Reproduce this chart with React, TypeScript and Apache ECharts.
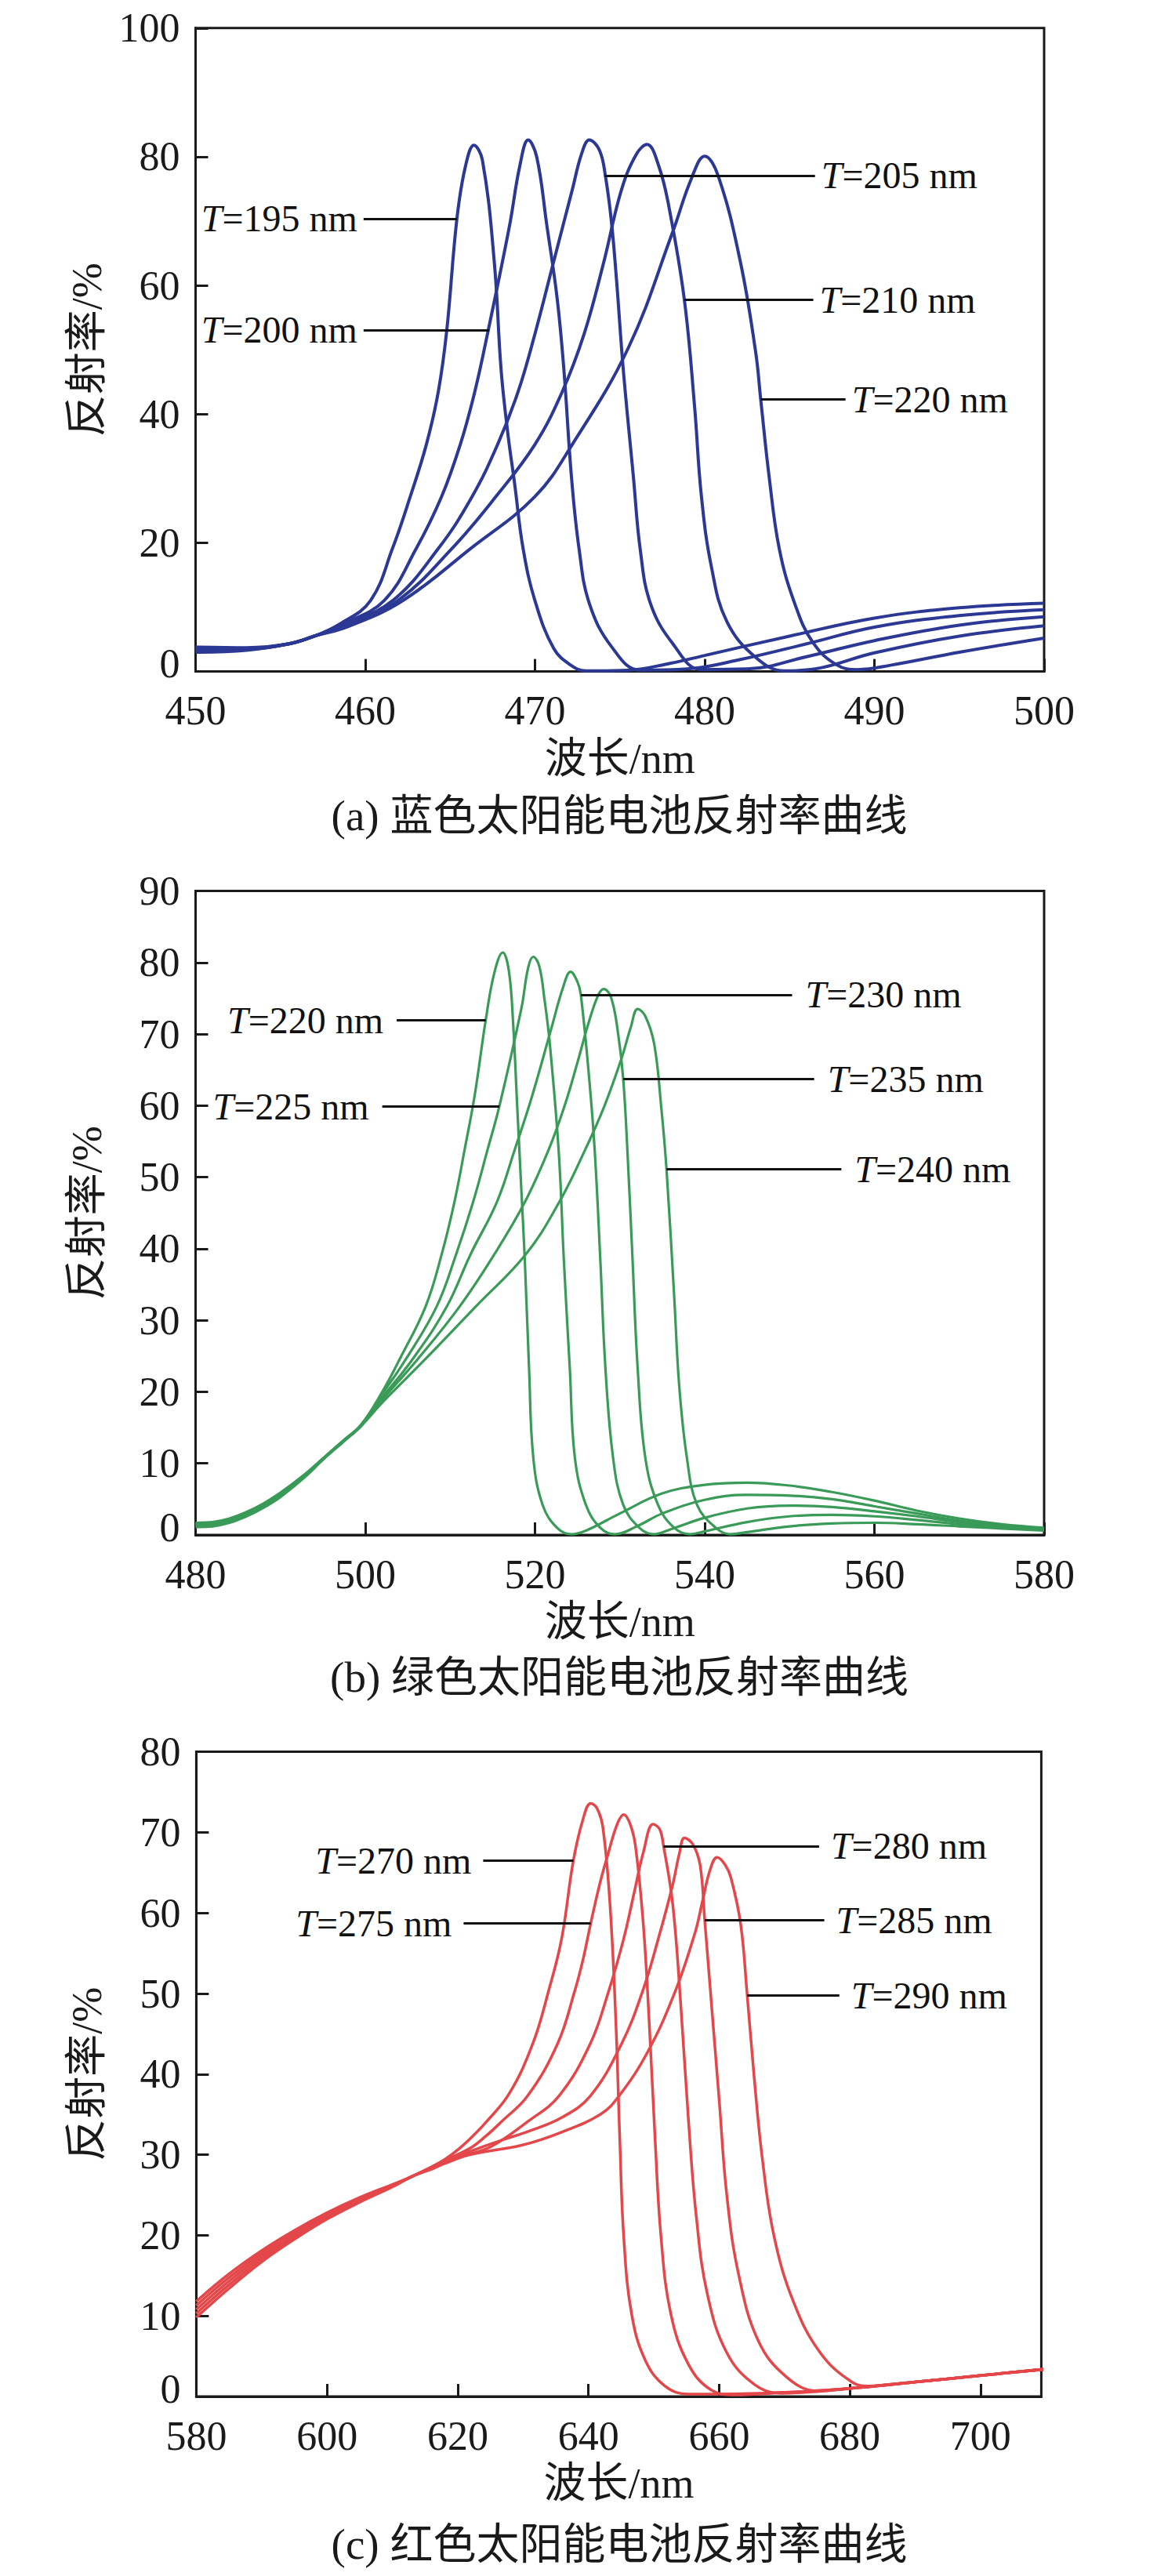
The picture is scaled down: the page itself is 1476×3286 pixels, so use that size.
import React, { useEffect, useRef } from "react";
import * as echarts from "echarts";

const FONT = '"Liberation Serif", "Times New Roman", "Noto Sans CJK SC", serif';

// ---------- Panel (a): blue cells, 450–500 nm ----------
const blueT195 = [[450,3.0],[453,3.3],[455.5,4.3],[457,5.5],[458.5,7.4],[460.3,11.0],[461.6,19.1],[462.65,27.2],[463.6,35.3],[464.3,43.45],[464.8,53],[465.4,70.4],[465.9,78.5],[466.4,81.8],[466.9,79.5],[467.6,63.7],[468.0,47],[468.4,37],[468.8,29.2],[469.3,19.1],[470.0,11],[471.1,3.6],[472.1,1.0],[473,0.1],[475.5,0.2],[478,1.3],[480,2.5],[485,5.5],[490,8.3],[495,9.9],[500,10.6]];
const blueT200 = [[450,3.2],[453,3.4],[455.5,4.3],[457,5.5],[458.6,7.3],[461.1,11.0],[463.0,19.1],[464.5,27.2],[465.6,35.3],[466.45,43.45],[467.25,53.1],[468.5,69.3],[469.1,78.5],[469.6,82.6],[470.1,80],[470.7,69.3],[471.3,58.1],[471.7,47],[472.15,30.2],[472.6,19],[473.2,10.6],[474.5,3.9],[476.2,0.2],[479,0.4],[482,1.8],[486,4.3],[490,6.9],[495,8.7],[500,9.6]];
const blueT205 = [[450,3.4],[453,3.5],[455.5,4.3],[457,5.5],[458.7,7.2],[461.6,11.0],[464.3,19.1],[466.3,27.2],[467.8,35.3],[469.0,43.45],[470.0,52.5],[471.1,63.7],[472.2,74.9],[472.75,80.5],[473.2,82.6],[473.8,81],[474.15,77],[474.5,70],[474.8,61],[475.2,47],[475.8,30.2],[476.2,19],[476.8,10.6],[478.1,4.4],[479.8,0.3],[482.5,0.4],[486,2.3],[490,4.8],[495,7.2],[500,8.5]];
const blueT210 = [[450,3.6],[453,3.6],[455.5,4.3],[457,5.5],[458.8,7.1],[461.9,11.0],[465.1,19.1],[467.7,27.2],[470.0,35.3],[471.6,43.45],[472.9,52.5],[474.06,63.7],[475.1,74.9],[476.0,80.5],[476.6,81.9],[477.3,78.5],[477.9,72.1],[478.8,57.8],[479.4,41.3],[479.8,27.4],[480.4,16.2],[481.3,7.8],[483,2.2],[484.7,0.1],[486.5,0.4],[490,2.9],[495,5.5],[500,7.1]];
const blueT220 = [[450,3.8],[453,3.7],[455.5,4.3],[457,5.5],[459,7.0],[462.2,11.0],[466.2,19.1],[470.0,27.2],[472.2,35.3],[475.5,50.3],[478.1,68.2],[479.2,76.5],[480.0,80.1],[480.8,77],[482.1,63.7],[483,49.7],[483.3,42.3],[483.8,30.2],[484.4,19],[485.3,10.6],[486.4,4.4],[487.8,1.0],[489,0.3],[491,1.0],[495,3.0],[500,5.2]];

// ---------- Panel (b): green cells, 480–580 nm ----------
const greenT220 = [[480,1.7],[482,1.8],[484,2.3],[486,3.2],[488,4.4],[490,5.9],[493,8.6],[495,10.7],[497.5,13.3],[499.5,15.4],[502,20],[504.07,24.6],[507.1,31.9],[509.0,39.2],[510.5,46.5],[511.7,53.8],[512.9,61.5],[514.2,72],[515.2,78.5],[516.2,81.4],[516.9,79],[517.4,72],[517.9,60],[518.4,48],[518.8,38.4],[519.3,23.3],[519.8,10.8],[520.9,4.2],[522.6,1.0],[524.3,0.1],[526,0.6],[530,3],[535,5.8],[540,7.0],[545,7.3],[550,6.9],[555,6.0],[560,4.8],[565,3.4],[570,2.3],[575,1.5],[580,1.0]];
const greenT225 = [[480,1.55],[482,1.65],[484,2.15],[486,3.05],[488,4.25],[490,5.75],[493,8.5],[495,10.65],[497.5,13.25],[499.5,15.35],[502,19.7],[504.8,24.6],[508.4,31.9],[510.7,39.2],[512.7,46.5],[514.4,53.8],[515.8,59.9],[518.4,73.6],[519.2,79.3],[519.8,80.8],[520.5,79.5],[521.1,75],[521.75,68.6],[522.8,53.5],[523.4,38.4],[524.1,23.3],[524.7,10.8],[526,4.2],[527.7,1],[529.4,0.1],[532,1.2],[535,3.0],[540,4.9],[545,5.6],[550,5.5],[555,5.0],[560,4.0],[565,3.0],[570,2.0],[575,1.3],[580,0.9]];
const greenT230 = [[480,1.4],[482,1.5],[484,2.0],[486,2.9],[488,4.1],[490,5.6],[493,8.4],[495,10.6],[497.5,13.2],[499.5,15.3],[502,19.2],[505.6,24.6],[509.6,31.9],[512.4,39.2],[515.5,46.5],[517.6,53.8],[519.6,61.1],[522.0,71.1],[523.3,76.5],[524.2,78.7],[525,77.3],[525.4,75.5],[526.4,63.6],[527.05,53.5],[527.7,38.4],[528.3,23.3],[529.2,10.8],[530.4,4.2],[532.3,1],[534,0.1],[536,0.8],[540,2.4],[545,3.7],[550,4.1],[555,3.9],[560,3.3],[565,2.6],[570,1.8],[575,1.2],[580,0.8]];
const greenT235 = [[480,1.25],[482,1.35],[484,1.85],[486,2.75],[488,3.95],[490,5.45],[493,8.3],[495,10.55],[497.5,13.15],[499.5,15.25],[502,18.9],[506.2,24.6],[511.1,31.9],[515.2,39.2],[518.8,46.5],[521.6,53.8],[523.5,60],[525,66],[526.2,71.1],[527.4,75.3],[528.1,76.3],[529,75],[529.8,70],[530.4,63.7],[530.9,53.5],[531.5,38.4],[532.1,23.3],[533,10.8],[534.5,4.2],[536.4,1],[538.3,0.1],[540,0.5],[545,1.8],[550,2.6],[555,2.8],[560,2.6],[565,2.1],[570,1.5],[575,1.0],[580,0.7]];
const greenT240 = [[480,1.1],[482,1.2],[484,1.7],[486,2.6],[488,3.8],[490,5.3],[493,8.2],[495,10.5],[497.5,13.1],[499.5,15.2],[502,18.5],[507.1,24.6],[513.0,31.9],[518.9,39.2],[522.85,46.5],[525.9,53.8],[528.2,60],[530.2,66.6],[531.3,71],[532.1,73.5],[533,72.5],[534.05,68.6],[534.9,59.5],[535.5,51.1],[536.4,33.4],[537,20.8],[537.9,10.8],[539.1,4.2],[541.3,1],[543,0.1],[545,0.4],[550,1.2],[555,1.6],[560,1.7],[565,1.5],[570,1.2],[575,0.9],[580,0.6]];

// ---------- Panel (c): red cells, 580–710 nm ----------
const redT270 = [[580,11.8],[585,15.2],[590,18.1],[595,20.6],[600,22.8],[605,24.7],[610,26.3],[613,27.3],[616,28.5],[618,29.4],[620.3,30.8],[622.3,32.3],[624.3,34.0],[627.9,37.6],[631.5,43.8],[633.9,50.3],[635.9,56.8],[637.7,66.5],[639.2,71.7],[640.35,73.6],[641.3,73],[642.2,70.7],[643.3,61.1],[644.2,46.5],[644.8,32],[645.4,19.9],[646.6,10.3],[648.7,4.5],[651.7,1.3],[655.3,0.3],[660,0.3],[670,0.5],[680,1.0],[690,1.8],[700,2.6],[710,3.4]];
const redT275 = [[580,11.3],[585,14.75],[590,17.75],[595,20.3],[600,22.6],[605,24.55],[610,26.2],[613,27.3],[616,28.45],[618,29.3],[621.9,30.8],[624.3,32.3],[626.7,34.1],[630.7,37.3],[635.3,43.8],[637.9,50.3],[639.2,54.3],[640.35,58.7],[641.8,63.8],[643,67.3],[644.4,71],[645.4,72.2],[646.4,71],[647.2,68.3],[648.4,58.6],[649.3,46.5],[650.2,32],[651.1,19.9],[652.6,10.3],[655.3,4.0],[658.8,0.8],[662.4,0.2],[670,0.5],[680,1.0],[690,1.8],[700,2.6],[710,3.4]];
const redT280 = [[580,10.8],[585,14.3],[590,17.4],[595,20],[600,22.4],[605,24.4],[610,26.1],[613,27.3],[616,28.4],[618,29.15],[621,29.9],[625.1,31.0],[630.7,34.1],[635.5,37.3],[640.3,43.8],[643.1,50.3],[645.4,56.8],[647,62.5],[648.4,67.5],[649.9,71.0],[650.9,70.4],[651.5,68.3],[652.9,61.1],[654.1,49],[655.3,34.4],[656.5,22.4],[658.2,12.7],[661.2,5.4],[665.4,1.5],[669.6,0.4],[675,0.6],[680,1.0],[690,1.8],[700,2.6],[710,3.4]];
const redT285 = [[580,10.3],[585,13.85],[590,17.05],[595,19.75],[600,22.2],[605,24.25],[610,26.05],[613,27.3],[616,28.3],[618,29.0],[621.9,30.4],[626.7,31.8],[630.8,32.9],[635.9,34.6],[640.3,37.3],[645.1,43.8],[648.3,50.3],[650.7,56.8],[652.9,63.5],[653.9,67.3],[654.7,69.3],[656,68.5],[657.1,65.9],[657.8,59.1],[658.8,49.0],[660,36.9],[661.2,24.8],[663,15.1],[666,6.9],[670.2,2.5],[675,0.7],[680,1.0],[690,1.8],[700,2.6],[710,3.4]];
const redT290 = [[580,9.8],[585,13.4],[590,16.7],[595,19.5],[600,22.0],[605,24.1],[610,26.0],[613,27.3],[616,28.2],[618,28.9],[621.9,30.0],[629.9,31.2],[635.9,32.8],[641.9,35.05],[644.7,37.3],[649.1,42.8],[653.3,50.3],[656.3,57.5],[657.5,61.6],[658.6,65.3],[659.7,66.9],[660.9,66],[661.8,64.4],[663.3,58.6],[664.3,49.8],[665.4,39.3],[666.6,29.6],[668.4,19.9],[671.4,11.7],[675.5,5.4],[680.3,1.8],[683,1.3],[690,1.8],[700,2.6],[710,3.4]];

// ---------- Annotation call-outs (data coordinates) ----------
const blueNotes = [
  { t: "195", y: 70.4, from: 459.9, to: 465.4, side: "left" },
  { t: "200", y: 53.1, from: 459.9, to: 467.3, side: "left" },
  { t: "205", y: 77.1, from: 474.1, to: 486.5, side: "right" },
  { t: "210", y: 57.8, from: 478.8, to: 486.4, side: "right" },
  { t: "220", y: 42.3, from: 483.3, to: 488.3, side: "right" },
];
const greenNotes = [
  { t: "220", y: 71.9, from: 503.7, to: 514.2, side: "left" },
  { t: "225", y: 59.9, from: 502.0, to: 515.8, side: "left" },
  { t: "230", y: 75.5, from: 525.4, to: 550.3, side: "right" },
  { t: "235", y: 63.7, from: 530.4, to: 552.9, side: "right" },
  { t: "240", y: 51.1, from: 535.5, to: 556.1, side: "right" },
];
const redNotes = [
  { t: "270", y: 66.5, from: 623.9, to: 637.7, side: "left" },
  { t: "275", y: 58.7, from: 620.9, to: 640.35, side: "left" },
  { t: "280", y: 68.3, from: 651.5, to: 675.3, side: "right" },
  { t: "285", y: 59.1, from: 657.8, to: 676.1, side: "right" },
  { t: "290", y: 49.8, from: 664.3, to: 678.4, side: "right" },
];

const xTicksA = [450, 500, 10];
const yTicksA = [0, 100, 20];
const xTicksB = [480, 580, 20];
const yTicksB = [0, 90, 10];
const xTicksC = [580, 709.3, 20];
const yTicksC = [0, 80, 10];

const captions = ["(a) 蓝色太阳能电池反射率曲线", "(b) 绿色太阳能电池反射率曲线", "(c) 红色太阳能电池反射率曲线"];

const panels = [
  { grid: { left: 249.5, top: 35.8, width: 1082.5, height: 820.8 }, x: xTicksA, y: yTicksA, color: "#2b3894", lw: 4, curves: [blueT195, blueT200, blueT205, blueT210, blueT220], notes: blueNotes, dist: 8, capY: 1040 },
  { grid: { left: 249.5, top: 1136.5, width: 1082.5, height: 821.5 }, x: xTicksB, y: yTicksB, color: "#3a9a58", lw: 3.2, curves: [greenT220, greenT225, greenT230, greenT235, greenT240], notes: greenNotes, dist: 17, capY: 2139 },
  { grid: { left: 250.4, top: 2234.6, width: 1078, height: 822.4 }, x: xTicksC, y: yTicksC, color: "#e3474a", lw: 3.5, curves: [redT270, redT275, redT280, redT285, redT290], notes: redNotes, dist: 15, capY: 3245 },
];

function buildOption() {
  const grid: any[] = [];
  const xAxis: any[] = [];
  const yAxis: any[] = [];
  const series: any[] = [];
  const graphic: any[] = [];
  const axisLine = { show: true, onZero: false, lineStyle: { color: "#1a1a1a", width: 3 } };
  const axisTick = { show: true, inside: true, length: 16, lineStyle: { color: "#1a1a1a", width: 3 } };

  panels.forEach((p, i) => {
    grid.push({ ...p.grid, show: true, borderColor: "#1a1a1a", borderWidth: 3, backgroundColor: "transparent", containLabel: false });
    xAxis.push({
      type: "value", gridIndex: i, min: p.x[0], max: p.x[1], interval: p.x[2],
      axisLine, axisTick, splitLine: { show: false },
      axisLabel: { color: "#1a1a1a", fontFamily: FONT, fontSize: 52, lineHeight: 40, margin: 30, showMaxLabel: i === 2 ? false : true },
      name: "波长/nm", nameLocation: "middle", nameGap: 84,
      nameTextStyle: { color: "#1a1a1a", fontFamily: FONT, fontSize: 54 },
    });
    yAxis.push({
      type: "value", gridIndex: i, min: p.y[0], max: p.y[1], interval: p.y[2],
      axisLine, axisTick, splitLine: { show: false },
      axisLabel: {
        color: "#1a1a1a", fontFamily: FONT, fontSize: 52, lineHeight: 40, margin: 20,
        formatter: (v: number) => (v === 0 ? "{z|0}" : String(v)),
        rich: { z: { fontFamily: FONT, fontSize: 52, color: "#1a1a1a", padding: [0, 0, 20, 0] } },
      },
      name: "反射率/%", nameLocation: "middle", nameGap: 112,
      nameTextStyle: { color: "#1a1a1a", fontFamily: FONT, fontSize: 54 },
    });
    p.curves.forEach((c, k) => {
      const note = p.notes[k];
      const left = note.side === "left";
      series.push({
        type: "line", name: "T=" + note.t + " nm", xAxisIndex: i, yAxisIndex: i,
        data: c, smooth: 0.4, showSymbol: false, symbol: "none",
        lineStyle: { color: p.color, width: p.lw }, itemStyle: { color: p.color },
        clip: true, silent: true, z: 2,
        markLine: {
          silent: true, symbol: ["none", "none"], animation: false,
          lineStyle: { color: "#111", width: 3, type: "solid" },
          emphasis: { disabled: true },
          label: {
            show: true, position: left ? "start" : "end", distance: p.dist,
            formatter: "{i|T}{n|=" + note.t + " nm}",
            rich: {
              i: { fontStyle: "italic", fontFamily: FONT, fontSize: 48, color: "#111" },
              n: { fontFamily: FONT, fontSize: 48, color: "#111" },
            },
          },
          data: [[{ coord: [note.from, note.y] }, { coord: [note.to, note.y] }]],
        },
      });
    });
    graphic.push({
      type: "text", x: 790, y: p.capY,
      style: { text: captions[i], fill: "#1a1a1a", font: `55px ${FONT}`, fontSize: 55, fontFamily: FONT, align: "center", verticalAlign: "middle", textAlign: "center", textVerticalAlign: "middle" },
    });
  });

  return { animation: false, backgroundColor: "#ffffff", grid, xAxis, yAxis, series, graphic };
}

export default function App() {
  const ref = useRef<HTMLDivElement>(null);
  useEffect(() => {
    document.body.style.margin = "0";
    const chart = echarts.init(ref.current!, null, { renderer: "svg" });
    chart.setOption(buildOption() as any);
    return () => chart.dispose();
  }, []);
  return <div ref={ref} style={{ width: 1476, height: 3286 }} />;
}
